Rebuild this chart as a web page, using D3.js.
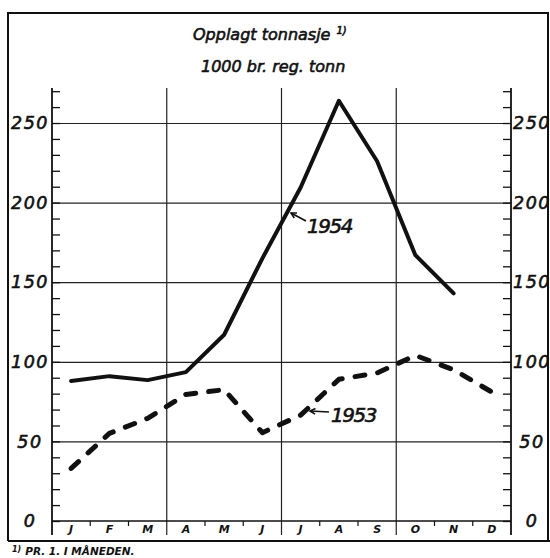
<!DOCTYPE html>
<html>
<head>
<meta charset="utf-8">
<script src="https://cdn.jsdelivr.net/npm/d3@7"></script>
<style>
  html, body { margin: 0; padding: 0; background: #fff; }
  svg { display: block; }
  text { font-family: "DejaVu Sans", sans-serif; font-style: italic; fill: #111; }
  .thick { stroke: #111; stroke-width: 0.6px; }
</style>
</head>
<body>
<svg id="chart" width="550" height="558"></svg>
<script>
// ---- data ----
const months = ["J", "F", "M", "A", "M", "J", "J", "A", "S", "O", "N", "D"];
const values1954 = [88, 91, 88.5, 93.5, 117, 165, 209.5, 264, 226, 167, 143];
const values1953 = [33, 55, 64.5, 79.5, 82.5, 55.5, 66.5, 89, 93, 104, 95, 81];
const majorTicks = [0, 50, 100, 150, 200, 250];
const minorTicks = d3.range(0, 271, 10);
const titleLines = ["Opplagt tonnasje", "1000 br. reg. tonn"];
const seriesLabels = ["1954", "1953"];
const footnote = "PR. 1. I MÅNEDEN.";

// ---- layout ----
const svg = d3.select("#chart");
const L = 52, R = 511, T = 88, B = 521, stripB = 535;

const x = d3.scaleBand().domain(d3.range(12)).range([L, R]).paddingInner(0).paddingOuter(0);
const y = d3.scaleLinear().domain([0, 272]).range([B, T]);
const cx = i => x(i) + x.bandwidth() / 2;

// outer frame
const frame = svg.append("g").attr("stroke", "#111").attr("stroke-width", 2).attr("fill", "none");
frame.append("path").attr("d", `M8,541 L8,13 L548,13 L548,541`);
frame.append("line").attr("x1", 8).attr("x2", 550).attr("y1", 541).attr("y2", 541);

// horizontal gridlines
const grid = svg.append("g").attr("transform", `translate(${L},0)`)
  .call(d3.axisLeft(y).tickValues(majorTicks.filter(d => d > 0)).tickSize(-(R - L)).tickFormat(""));
grid.select(".domain").remove();
grid.selectAll("line").attr("stroke", "#222").attr("stroke-width", 1.2);

// vertical quarter lines
svg.append("g").selectAll("line").data([3, 6, 9]).join("line")
  .attr("x1", d => x(d)).attr("x2", d => x(d))
  .attr("y1", T).attr("y2", stripB)
  .attr("stroke", "#222").attr("stroke-width", 1.2);

// baseline
svg.append("line").attr("x1", L).attr("x2", R).attr("y1", y(0)).attr("y2", y(0))
  .attr("stroke", "#111").attr("stroke-width", 1.6);

// month ticks
svg.append("g").selectAll("line").data(d3.range(1, 12).filter(d => d % 3 !== 0)).join("line")
  .attr("x1", d => x(d)).attr("x2", d => x(d))
  .attr("y1", y(0)).attr("y2", y(0) + 5)
  .attr("stroke", "#111").attr("stroke-width", 1.2);

// month labels
const xAxis = svg.append("g").attr("transform", `translate(0,${y(0)})`)
  .call(d3.axisBottom(x).tickSize(0).tickFormat(i => months[i]));
xAxis.select(".domain").remove();
xAxis.selectAll("text").attr("y", 0).attr("dy", "12px")
  .style("font-size", "11px").style("font-weight", "bold").style("font-family", "DejaVu Sans");

// left axis
const yl = svg.append("g").attr("transform", `translate(${L},0)`)
  .call(d3.axisLeft(y).tickValues(minorTicks).tickSize(-8)
    .tickFormat(d => majorTicks.includes(d) ? d : ""));
yl.select(".domain").remove();
yl.selectAll("line").attr("stroke", "#111").attr("stroke-width", 1.3);
yl.selectAll("text").attr("x", 30 - L).attr("text-anchor", "middle").attr("class", "thick")
  .style("font-size", "17.5px").style("letter-spacing", "1.5px").style("font-family", "DejaVu Sans");
svg.append("line").attr("x1", L).attr("x2", L).attr("y1", T).attr("y2", stripB)
  .attr("stroke", "#111").attr("stroke-width", 1.8);

// right axis
const yr = svg.append("g").attr("transform", `translate(${R},0)`)
  .call(d3.axisRight(y).tickValues(minorTicks).tickSize(-8)
    .tickFormat(d => majorTicks.includes(d) ? d : ""));
yr.select(".domain").remove();
yr.selectAll("line").attr("stroke", "#111").attr("stroke-width", 1.3);
yr.selectAll("text").attr("x", 532 - R).attr("text-anchor", "middle").attr("class", "thick")
  .style("font-size", "17.5px").style("letter-spacing", "1.5px").style("font-family", "DejaVu Sans");
svg.append("line").attr("x1", R).attr("x2", R).attr("y1", T).attr("y2", stripB)
  .attr("stroke", "#111").attr("stroke-width", 1.8);

// lines
const line = d3.line().x((d, i) => cx(i)).y(d => y(d));
svg.append("path").datum(values1953).attr("d", line)
  .attr("fill", "none").attr("stroke", "#111").attr("stroke-width", 5)
  .attr("stroke-dasharray", "10,13").attr("stroke-linecap", "round").attr("stroke-linejoin", "round");
svg.append("path").datum(values1954).attr("d", line)
  .attr("fill", "none").attr("stroke", "#111").attr("stroke-width", 4)
  .attr("stroke-linejoin", "round").attr("stroke-linecap", "round");

// series labels with arrows
function arrow(x1, y1, x2, y2) {
  const a = Math.atan2(y2 - y1, x2 - x1), h = 6;
  const g = svg.append("g").attr("stroke", "#111").attr("stroke-width", 1.6).attr("fill", "none");
  g.append("line").attr("x1", x1).attr("y1", y1).attr("x2", x2).attr("y2", y2);
  g.append("path").attr("d",
    `M${x2 + h * Math.cos(a + Math.PI - 0.5)},${y2 + h * Math.sin(a + Math.PI - 0.5)} L${x2},${y2} L${x2 + h * Math.cos(a + Math.PI + 0.5)},${y2 + h * Math.sin(a + Math.PI + 0.5)}`);
}
arrow(306, 221, 291, 213);
svg.append("text").attr("x", 307).attr("y", 233).attr("class", "thick").text(seriesLabels[0])
  .style("font-size", "20px").style("letter-spacing", "-1.5px");
arrow(329, 412, 310, 411);
svg.append("text").attr("x", 331).attr("y", 422).attr("class", "thick").text(seriesLabels[1])
  .style("font-size", "20px").style("letter-spacing", "-1.5px");

// title
const t1 = svg.append("text").attr("x", 193).attr("y", 40).attr("class", "thick").style("font-size", "16px");
t1.append("tspan").text(titleLines[0]);
t1.append("tspan").attr("dx", 6).attr("dy", -6).style("font-size", "10px").text("1)");
svg.append("text").attr("x", 201).attr("y", 72).attr("class", "thick").style("font-size", "16px").text(titleLines[1]);

// footnote
const fn = svg.append("text").attr("x", 12).attr("y", 555).style("font-size", "10.5px").style("font-weight", "bold");
fn.append("tspan").attr("dy", -3).style("font-size", "8px").text("1)");
fn.append("tspan").attr("dx", 4).attr("dy", 3).text(footnote);
</script>
</body>
</html>
